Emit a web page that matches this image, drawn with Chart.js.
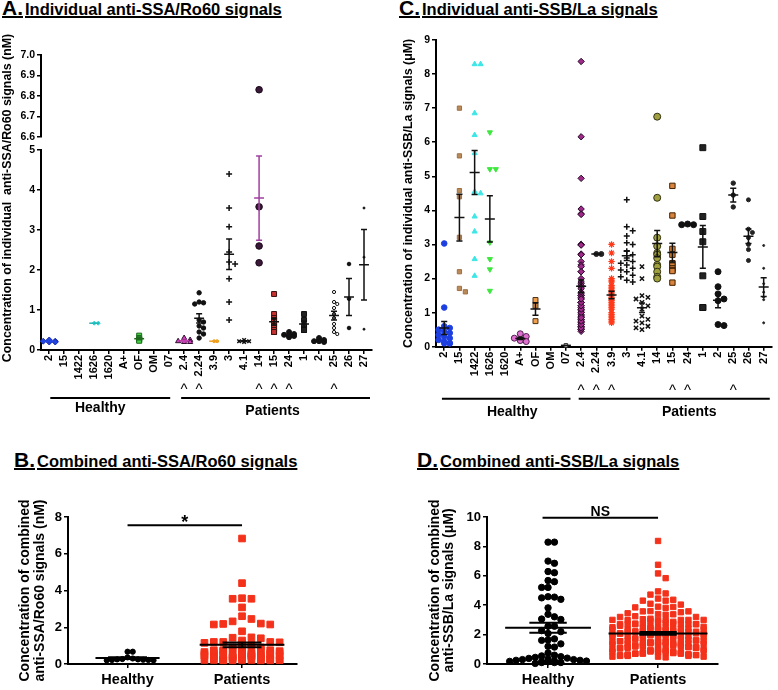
<!DOCTYPE html>
<html>
<head>
<meta charset="utf-8">
<script src="https://cdn.jsdelivr.net/npm/chart.js@4.4.1/dist/chart.umd.min.js"></script>
<style>
  html, body { margin: 0; padding: 0; background: #fff; }
  body { width: 778px; height: 690px; position: relative; overflow: hidden;
         font-family: "Liberation Sans", Arial, sans-serif; }
  canvas { position: absolute; }
  .ttl { position: absolute; font-weight: bold; font-size: 16.5px; line-height: 20px; color: #000;
         text-decoration: underline; text-decoration-thickness: 2px; white-space: nowrap; }
  .ttl span { font-size: 21px; margin-right: 2px; }
</style>
</head>
<body>
<div class="ttl" style="left:2px;top:-2px"><span>A.</span>Individual anti-SSA/Ro60 signals</div>
<div class="ttl" style="left:399px;top:-2px"><span>C.</span>Individual anti-SSB/La signals</div>
<div class="ttl" style="left:14px;top:450px"><span>B.</span>Combined anti-SSA/Ro60 signals</div>
<div class="ttl" style="left:417px;top:450px"><span>D.</span>Combined anti-SSB/La signals</div>
<canvas id="aBot" width="385" height="400" style="left:0;top:30px"></canvas>
<canvas id="aTop" width="385" height="100" style="left:0;top:45px"></canvas>
<canvas id="cChart" width="388" height="410" style="left:390px;top:20px"></canvas>
<canvas id="bChart" width="390" height="200" style="left:0;top:490px"></canvas>
<canvas id="dChart" width="388" height="200" style="left:390px;top:490px"></canvas>
<script>
// categories, same order in panels A and C (0..8 healthy, 9..21 patients)
const cats = ['2', '15', '1422', '1626', '1620', 'A+', 'OF', 'OM', '07', '2.4', '2.24', '3.9', '3', '4.1', '14', '15', '24', '1', '2', '25', '26', '27'];
const groupNames = ['Healthy', 'Patients'];
const healthyCount = 9;
const caretsA = [9, 10, 14, 15, 16, 19];
const caretsC = [9, 10, 11, 15, 16, 19];

// anti-SSA/Ro60 signals (nM), one list per category
const ssa = [
  [0.2, 0.22, 0.25, 0.22, 0.2],
  [], [],
  [0.67, 0.67],
  [], [],
  [0.36, 0.3, 0.27, 0.25, 0.23],
  [], [],
  [0.3, 0.25, 0.22, 0.2, 0.2],
  [1.43, 1.2, 1.18, 1.15, 0.75, 0.7, 0.6, 0.55, 0.45, 0.4, 0.3],
  [0.22, 0.22],
  [4.4, 3.55, 3.08, 2.45, 2.2, 2.15, 1.78, 1.2, 0.75],
  [0.25, 0.22, 0.22, 0.2],
  [6.83, 3.58, 2.6, 2.18],
  [1.4, 0.9, 0.8, 0.75, 0.7, 0.65, 0.6, 0.55, 0.5, 0.45, 0.45],
  [0.45, 0.4, 0.38, 0.35, 0.35, 0.32],
  [0.9, 0.75, 0.6, 0.5, 0.5],
  [0.3, 0.25, 0.22, 0.22, 0.2],
  [1.45, 1.2, 1.15, 1.05, 0.9, 0.8, 0.65, 0.55, 0.45, 0.4],
  [2.15, 1.28, 0.55],
  [3.55, 2.32, 0.52]
];

// anti-SSB/La signals (uM), one list per category
const ssb = [
  [3.03, 1.15, 0.6, 0.55, 0.5, 0.45, 0.4, 0.35, 0.3, 0.25, 0.2, 0.15, 0.1, 0.1, 0.1],
  [7.0, 5.6, 4.58, 4.4, 3.21, 2.2, 1.71, 1.61],
  [8.29, 8.29, 6.85, 6.21, 5.68, 4.55, 4.5, 3.82, 3.38, 2.57, 2.08],
  [6.29, 5.21, 5.21, 3.06, 2.57, 2.27, 1.64],
  [],
  [0.38, 0.3, 0.25, 0.2, 0.18, 0.15],
  [1.37, 1.2, 0.75],
  [],
  [0.04],
  [8.37, 6.16, 4.94, 4.04, 3.9, 3.88, 3.0, 3.0, 2.98, 2.72, 2.7, 2.7, 2.5, 2.4, 2.35, 2.2, 2.2, 2.0, 1.9, 1.85,
   1.8, 1.75, 1.7, 1.6, 1.55, 1.5, 1.5, 1.45, 1.4, 1.3, 1.3, 1.2, 1.15, 1.1, 1.05, 1.0, 0.95, 0.9, 0.85, 0.8,
   0.75, 0.7, 0.65, 0.6, 0.55, 0.5, 0.45, 0.5, 0.6, 0.7, 0.8, 0.9, 1.0, 1.1, 1.2, 1.3, 1.4, 0.55, 0.65, 0.75, 0.85],
  [2.72, 2.72],
  [3.0, 2.75, 2.5, 2.3, 2.0, 1.95, 1.9, 1.8, 1.75, 1.7, 1.65, 1.6, 1.55, 1.5, 1.45, 1.4, 1.35, 1.3, 1.25, 1.2,
   1.15, 1.1, 1.0, 0.95, 0.9, 0.85, 0.8, 0.75, 0.7],
  [4.31, 3.52, 3.4, 3.25, 3.05, 3.0, 2.8, 2.7, 2.6, 2.5, 2.45, 2.4, 2.3, 2.25, 2.2, 2.1, 2.05, 1.95, 1.9],
  [2.35, 2.0, 1.5, 1.45, 1.4, 1.3, 1.2, 1.1, 0.9, 0.8, 0.75, 0.7, 0.6, 0.55, 0.5],
  [6.75, 4.37, 3.2, 2.95, 2.75, 2.7, 2.6, 2.4, 2.35, 2.2, 2.05, 2.0],
  [4.72, 3.85, 2.87, 2.7, 2.45, 2.38, 2.3, 2.25, 2.22, 1.88],
  [3.58, 3.58, 3.6],
  [5.84, 3.82, 3.38, 3.08, 2.08, 1.15, 1.15],
  [2.2, 1.76, 1.55, 1.4, 1.35, 0.65, 0.62],
  [4.8, 4.45, 4.1],
  [4.31, 3.45, 3.35, 3.2, 3.0, 2.85, 2.53],
  [2.97, 2.3, 1.85, 1.6, 1.45, 1.38, 0.7]
];

// combined panels pool the same measurements
const ssaHealthy = ssa.slice(0, healthyCount).flat();
const ssaPatients = ssa.slice(healthyCount).flat();
const ssbHealthy = ssb.slice(0, healthyCount).flat();
const ssbPatients = ssb.slice(healthyCount).flat();

// tick values
const ticksATop = [6.6, 6.7, 6.8, 6.9, 7.0];
const ticksABot = [0, 1, 2, 3, 4, 5];
const ticksC = [0, 1, 2, 3, 4, 5, 6, 7, 8, 9];
const ticksB = [0, 2, 4, 6, 8];
const ticksD = [0, 2, 4, 6, 8, 10];

// marker styles per category
const styleA = [
  {ps: 'rectRot', bg: '#2244e0', bd: '#1830b0', r: 3, bar: '#2244e0'},
  null, null,
  {ps: 'rectRot', bg: '#30d0d0', bd: '#30d0d0', r: 2, bar: '#20b8b8'},
  null, null,
  {ps: 'rect', bg: '#44d044', bd: '#1d6a1d', r: 3.5, bar: '#1d6a1d'},
  null, null,
  {ps: 'triangle', bg: '#d040c0', bd: '#301030', r: 3, bar: '#c040b0'},
  {ps: 'circle', bg: '#111', bd: '#111', r: 2.2, bar: '#111'},
  {ps: 'circle', bg: '#f0a020', bd: '#f0a020', r: 1.5, bar: '#f0a020'},
  {ps: 'cross', bg: '#111', bd: '#111', r: 3, bw: 1.5, bar: '#111'},
  {ps: 'crossRot', bg: '#111', bd: '#111', r: 2.5, bw: 1.5, bar: '#111'},
  {ps: 'circle', bg: '#3a1838', bd: '#1a0818', r: 3.3, bar: '#a040a0'},
  {ps: 'rect', bg: '#c83030', bd: '#3a1010', r: 3.5, bar: '#111'},
  {ps: 'circle', bg: '#111', bd: '#111', r: 2.5, bar: '#111'},
  {ps: 'rect', bg: '#222', bd: '#111', r: 3.5, bar: '#111'},
  {ps: 'circle', bg: '#111', bd: '#111', r: 2.5, bar: '#111'},
  {ps: 'circle', bg: '#fff', bd: '#111', r: 1.6, bar: '#111'},
  {ps: 'circle', bg: '#111', bd: '#111', r: 1.8, bar: '#111'},
  {ps: 'circle', bg: '#111', bd: '#111', r: 1, bar: '#111'}
];
const styleC = [
  {ps: 'circle', bg: '#1d3fe0', bd: '#1d3fe0', r: 2.8, bar: '#111'},
  {ps: 'rect', bg: '#b98a5a', bd: '#a07040', r: 3, bar: '#111'},
  {ps: 'triangle', bg: '#3ee6e6', bd: '#3ee6e6', r: 3, bar: '#111'},
  {ps: 'triangle', rot: 180, bg: '#3ce83c', bd: '#3ce83c', r: 3, bar: '#111'},
  null,
  {ps: 'circle', bg: '#e070d0', bd: '#502050', r: 3, bar: '#111'},
  {ps: 'rect', bg: '#f0a050', bd: '#503010', r: 3.5, bar: '#111'},
  null,
  {ps: 'rect', bg: '#d0d0d0', bd: '#333', r: 2.5, bar: '#111'},
  {ps: 'rectRot', bg: '#a02a8a', bd: '#2a0a2a', r: 3.2, bar: '#111'},
  {ps: 'circle', bg: '#222', bd: '#222', r: 2.5, bar: '#111'},
  {ps: 'star', bg: '#ff3a1a', bd: '#ff3a1a', r: 3.2, bw: 1.2, bar: '#111'},
  {ps: 'cross', bg: '#111', bd: '#111', r: 3, bw: 1.5, bar: '#111'},
  {ps: 'crossRot', bg: '#111', bd: '#111', r: 3, bw: 1.5, bar: '#111'},
  {ps: 'circle', bg: '#a0a040', bd: '#303010', r: 3.5, bar: '#111'},
  {ps: 'rect', bg: '#d8843c', bd: '#402000', r: 3.8, bar: '#111'},
  {ps: 'circle', bg: '#111', bd: '#111', r: 3, bar: '#111'},
  {ps: 'rect', bg: '#222', bd: '#111', r: 4.2, bar: '#111'},
  {ps: 'circle', bg: '#111', bd: '#111', r: 3, bar: '#111'},
  {ps: 'circle', bg: '#222', bd: '#222', r: 2.2, bar: '#111'},
  {ps: 'circle', bg: '#222', bd: '#222', r: 2, bar: '#111'},
  {ps: 'circle', bg: '#222', bd: '#222', r: 1, bar: '#111'}
];

const FONT = '"Liberation Sans", Arial, sans-serif';
Chart.defaults.font.family = FONT;
Chart.defaults.font.weight = 'bold';
Chart.defaults.color = '#000';
Chart.defaults.animation = false;
Chart.defaults.plugins.legend.display = false;
Chart.defaults.plugins.tooltip.enabled = false;

// spread equal values sideways like a dot plot (offsets in x units)
function swarm(values, xPx, yPx, r, maxOff) {
  const order = values.map((v, i) => i).sort((a, b) => values[b] - values[a]);
  const cands = [0];
  for (let k = 1; k * r / 2 <= maxOff; k++) cands.push(k * r / 2, -k * r / 2);
  const dmin = 2 * r * 0.9;
  const placed = [];
  const offs = new Array(values.length);
  for (const i of order) {
    const y = values[i] * yPx;
    let best = 0, bestHits = Infinity;
    for (const cx of cands) {
      let hits = 0;
      for (const p of placed) {
        if (Math.abs(p.y - y) < dmin && Math.abs(p.x - cx) < dmin) hits++;
      }
      if (hits < bestHits) { bestHits = hits; best = cx; if (!hits) break; }
    }
    placed.push({x: best, y});
    offs[i] = best / xPx;
  }
  return offs;
}

function pointSet(pts, st) {
  return {
    data: pts, showLine: false, clip: false,
    pointStyle: st.ps, pointRotation: st.rot || 0, pointRadius: st.r,
    pointBackgroundColor: st.bg, pointBorderColor: st.bd, pointBorderWidth: st.bw || 1
  };
}

function categorySets(vals, styles, xPx, yPx, keep) {
  const sets = [];
  vals.forEach((arr, i) => {
    const st = styles[i];
    if (!st || !arr.length) return;
    const offs = swarm(arr, xPx, yPx, st.r, 6);
    const pts = [];
    arr.forEach((v, j) => { if (keep(v)) pts.push({x: i + offs[j], y: v}); });
    if (pts.length) sets.push(pointSet(pts, st));
  });
  return sets;
}

function summaryItems(vals, styles) {
  const items = [];
  vals.forEach((arr, i) => {
    if (styles[i] && arr.length) items.push({x: i, values: arr, color: styles[i].bar, half: 0.33, cap: 0.2});
  });
  return items;
}

// mean line with SEM bar
const summaryPlugin = {
  id: 'summary',
  afterDatasetsDraw(chart, args, o) {
    if (!o.items) return;
    const {ctx} = chart;
    const x = chart.scales.x, y = chart.scales.y;
    ctx.save();
    ctx.lineWidth = o.width || 1.5;
    for (const it of o.items) {
      const n = it.values.length;
      const m = it.values.reduce((a, b) => a + b, 0) / n;
      let se = 0;
      if (n > 1) {
        const sd = Math.sqrt(it.values.reduce((a, b) => a + (b - m) ** 2, 0) / (n - 1));
        se = sd / Math.sqrt(n);
      }
      const cx = x.getPixelForValue(it.x);
      const hw = x.getPixelForValue(it.x + it.half) - cx;
      const cw = x.getPixelForValue(it.x + it.cap) - cx;
      const ym = y.getPixelForValue(m);
      ctx.strokeStyle = it.color;
      ctx.beginPath();
      ctx.moveTo(cx - hw, ym); ctx.lineTo(cx + hw, ym);
      if (se > 0) {
        const y1 = y.getPixelForValue(m + se), y0 = y.getPixelForValue(m - se);
        ctx.moveTo(cx, y1); ctx.lineTo(cx, y0);
        ctx.moveTo(cx - cw, y1); ctx.lineTo(cx + cw, y1);
        ctx.moveTo(cx - cw, y0); ctx.lineTo(cx + cw, y0);
      }
      ctx.stroke();
    }
    ctx.restore();
  }
};

// ^ marks, group lines and group names under the category axis
const groupPlugin = {
  id: 'groupMarks',
  afterDraw(chart, args, o) {
    if (!o.carets) return;
    const {ctx, chartArea} = chart;
    const x = chart.scales.x, b = chartArea.bottom;
    ctx.save();
    ctx.fillStyle = '#000';
    ctx.strokeStyle = '#000';
    ctx.textAlign = 'center';
    ctx.font = '15px ' + FONT;
    o.carets.forEach(i => ctx.fillText('^', x.getPixelForValue(i), b + o.caretY));
    ctx.lineWidth = 2;
    ctx.font = 'bold 14px ' + FONT;
    ctx.textBaseline = 'middle';
    o.spans.forEach((s, k) => {
      const x0 = x.getPixelForValue(s[0]), x1 = x.getPixelForValue(s[1]);
      ctx.beginPath(); ctx.moveTo(x0, b + o.lineY); ctx.lineTo(x1, b + o.lineY); ctx.stroke();
      ctx.fillText(groupNames[k], (x0 + x1) / 2 + o.textDx[k], b + o.textY[k]);
    });
    ctx.restore();
  }
};

// y title that spans both halves of the broken axis
const sideTitlePlugin = {
  id: 'sideTitle',
  afterDraw(chart, args, o) {
    if (!o.text) return;
    const {ctx} = chart;
    ctx.save();
    ctx.translate(o.x, o.y);
    ctx.rotate(-Math.PI / 2);
    ctx.font = o.font;
    ctx.fillStyle = '#000';
    ctx.textAlign = 'center';
    ctx.textBaseline = 'middle';
    ctx.fillText(o.text, 0, 0);
    ctx.restore();
  }
};

// significance bar
const sigPlugin = {
  id: 'sig',
  afterDraw(chart, args, o) {
    if (!o.text) return;
    const {ctx} = chart;
    const x = chart.scales.x, y = chart.scales.y;
    const x0 = x.getPixelForValue(o.from), x1 = x.getPixelForValue(o.to), yy = y.getPixelForValue(o.y);
    ctx.save();
    ctx.strokeStyle = '#000';
    ctx.lineWidth = 2;
    ctx.beginPath(); ctx.moveTo(x0, yy); ctx.lineTo(x1, yy); ctx.stroke();
    ctx.fillStyle = '#000';
    ctx.font = o.font;
    ctx.textAlign = 'center';
    ctx.fillText(o.text, (x0 + x1) / 2, yy + o.dy);
    ctx.restore();
  }
};

Chart.register(summaryPlugin, groupPlugin, sideTitlePlugin, sigPlugin);

function yAxis(min, max, ticks, width, size, fmt, title) {
  return {
    min, max,
    afterBuildTicks: s => { s.ticks = ticks.map(v => ({value: v})); },
    afterFit: s => { s.width = width; },
    ticks: {font: {size, weight: 'bold'}, padding: 2, callback: fmt || (v => String(v))},
    grid: {drawOnChartArea: false, tickLength: 4, color: '#000', lineWidth: 1.5},
    border: {color: '#000', width: 2},
    title: title || {display: false}
  };
}

function xAxis(min, max, labels, height, size, rotate, padding) {
  return {
    type: 'linear', min, max,
    afterBuildTicks: s => { s.ticks = labels.map((l, i) => ({value: i})); },
    afterFit: s => { s.height = height; },
    ticks: {
      autoSkip: false, minRotation: rotate, maxRotation: rotate, padding,
      font: {size, weight: 'bold'}, callback: v => labels[Math.round(v)]
    },
    grid: {drawOnChartArea: false, tickLength: 4, color: '#000', lineWidth: 1.5},
    border: {color: '#000', width: 2}
  };
}

// Panel A, lower segment 0-5
new Chart(document.getElementById('aBot'), {
  type: 'scatter',
  data: {datasets: categorySets(ssa, styleA, 15, 40, v => v <= 5)},
  options: {
    responsive: false, devicePixelRatio: 1,
    layout: {padding: {top: 120, right: 13.5, bottom: 50, left: 0}},
    scales: {
      x: xAxis(-0.55, 21.5, cats, 30, 11, 90, 1),
      y: yAxis(0, 5, ticksABot, 41, 10.5)
    },
    plugins: {
      summary: {items: summaryItems(ssa, styleA)},
      groupMarks: {
        carets: caretsA, caretY: 44, lineY: 48, textY: [58, 61], textDx: [-10, -3],
        spans: [[0.07, 8.07], [8.8, 21.4]]
      },
      sideTitle: {
        text: 'Concentration of individual  anti-SSA/Ro60 signals (nM)',
        x: 7.5, y: 168, font: 'bold 12.4px ' + FONT
      }
    }
  }
});

// Panel A, upper segment 6.6-7.0
new Chart(document.getElementById('aTop'), {
  type: 'scatter',
  data: {datasets: categorySets(ssa, styleA, 15, 212, v => v >= 6.6)},
  options: {
    responsive: false, devicePixelRatio: 1,
    layout: {padding: {top: 10, right: 13.5, bottom: 5, left: 0}},
    scales: {
      x: {type: 'linear', min: -0.55, max: 21.5, display: false},
      y: yAxis(6.6, 7.0, ticksATop, 41, 10.5, v => v.toFixed(1))
    }
  }
});

// Panel C
new Chart(document.getElementById('cChart'), {
  type: 'scatter',
  data: {datasets: categorySets(ssb, styleC, 15.34, 34.07, v => true)},
  options: {
    responsive: false, devicePixelRatio: 1,
    layout: {padding: {top: 20, right: 4, bottom: 53.3, left: 0}},
    scales: {
      x: xAxis(-0.54, 21.5, cats, 30, 11, 90, 1),
      y: yAxis(0, 9, ticksC, 46, 10.5, null, {
        display: true, text: 'Concentration of individual anti-SSB/La signals (\u03bcM)',
        font: {size: 12.4, weight: 'bold', lineHeight: 1.2}, padding: {top: 11, bottom: 0}
      })
    },
    plugins: {
      summary: {items: summaryItems(ssb, styleC)},
      groupMarks: {
        carets: caretsC, caretY: 48, lineY: 52, textY: [65, 65], textDx: [6, 15],
        spans: [[-0.15, 8.3], [8.84, 21.4]]
      }
    }
  }
});

function combinedChart(id, healthy, patients, o) {
  const hOff = swarm(healthy, o.xPx, o.yPx, o.rH, o.wH);
  const pOff = swarm(patients, o.xPx, o.yPx, o.rP, o.wP);
  return new Chart(document.getElementById(id), {
    type: 'scatter',
    data: {datasets: [
      pointSet(healthy.map((v, j) => ({x: 0 + hOff[j], y: v})), {ps: 'circle', bg: '#000', bd: '#000', r: o.rH}),
      pointSet(patients.map((v, j) => ({x: 1 + pOff[j], y: v})), {ps: 'rect', bg: '#f4311a', bd: '#f4311a', r: o.rP})
    ]},
    options: {
      responsive: false, devicePixelRatio: 1,
      layout: {padding: {top: 27, right: o.padRight, bottom: 0, left: 0}},
      scales: {
        x: xAxis(o.xMin, o.xMax, groupNames, 26, 14.5, 0, 3),
        y: yAxis(0, o.yMax, o.ticks, o.yWidth, 13, null, {
          display: true, text: o.title,
          font: {size: 14, weight: 'bold', lineHeight: o.titleLH}, padding: {top: o.titlePad, bottom: 0}
        })
      },
      plugins: {
        summary: {width: 2, items: [
          {x: 0, values: healthy, color: '#000', half: o.halfH, cap: 0.17},
          {x: 1, values: patients, color: '#000', half: o.halfP, cap: 0.17}
        ]},
        sig: o.sig
      }
    }
  });
}

// Panel B
combinedChart('bChart', ssaHealthy, ssaPatients, {
  xPx: 114.5, yPx: 18.4, rH: 2.6, rP: 4.7, wH: 30, wP: 42,
  xMin: -0.52, xMax: 1.48, yMax: 8, ticks: ticksB, yWidth: 68, padRight: 93,
  title: ['Concentration of combined', 'anti-SSA/Ro60 signals (nM)'], titleLH: 1.07, titlePad: 17.5,
  halfH: 0.28, halfP: 0.37,
  sig: {text: '*', from: 0, to: 1, y: 7.55, dy: 3, font: 'bold 18px ' + FONT}
});

// Panel D
combinedChart('dChart', ssbHealthy, ssbPatients, {
  xPx: 110, yPx: 14.7, rH: 3.2, rP: 3.8, wH: 40, wP: 50,
  xMin: -0.555, xMax: 1.545, yMax: 10, ticks: ticksD, yWidth: 97, padRight: 60,
  title: ['Concentration of combined', 'anti-SSB/La signals (\u03bcM)'], titleLH: 1.0, titlePad: 38,
  halfH: 0.39, halfP: 0.45,
  sig: {text: 'NS', from: -0.05, to: 1, y: 9.95, dy: -2, font: 'bold 14px ' + FONT}
});
</script>
</body>
</html>
